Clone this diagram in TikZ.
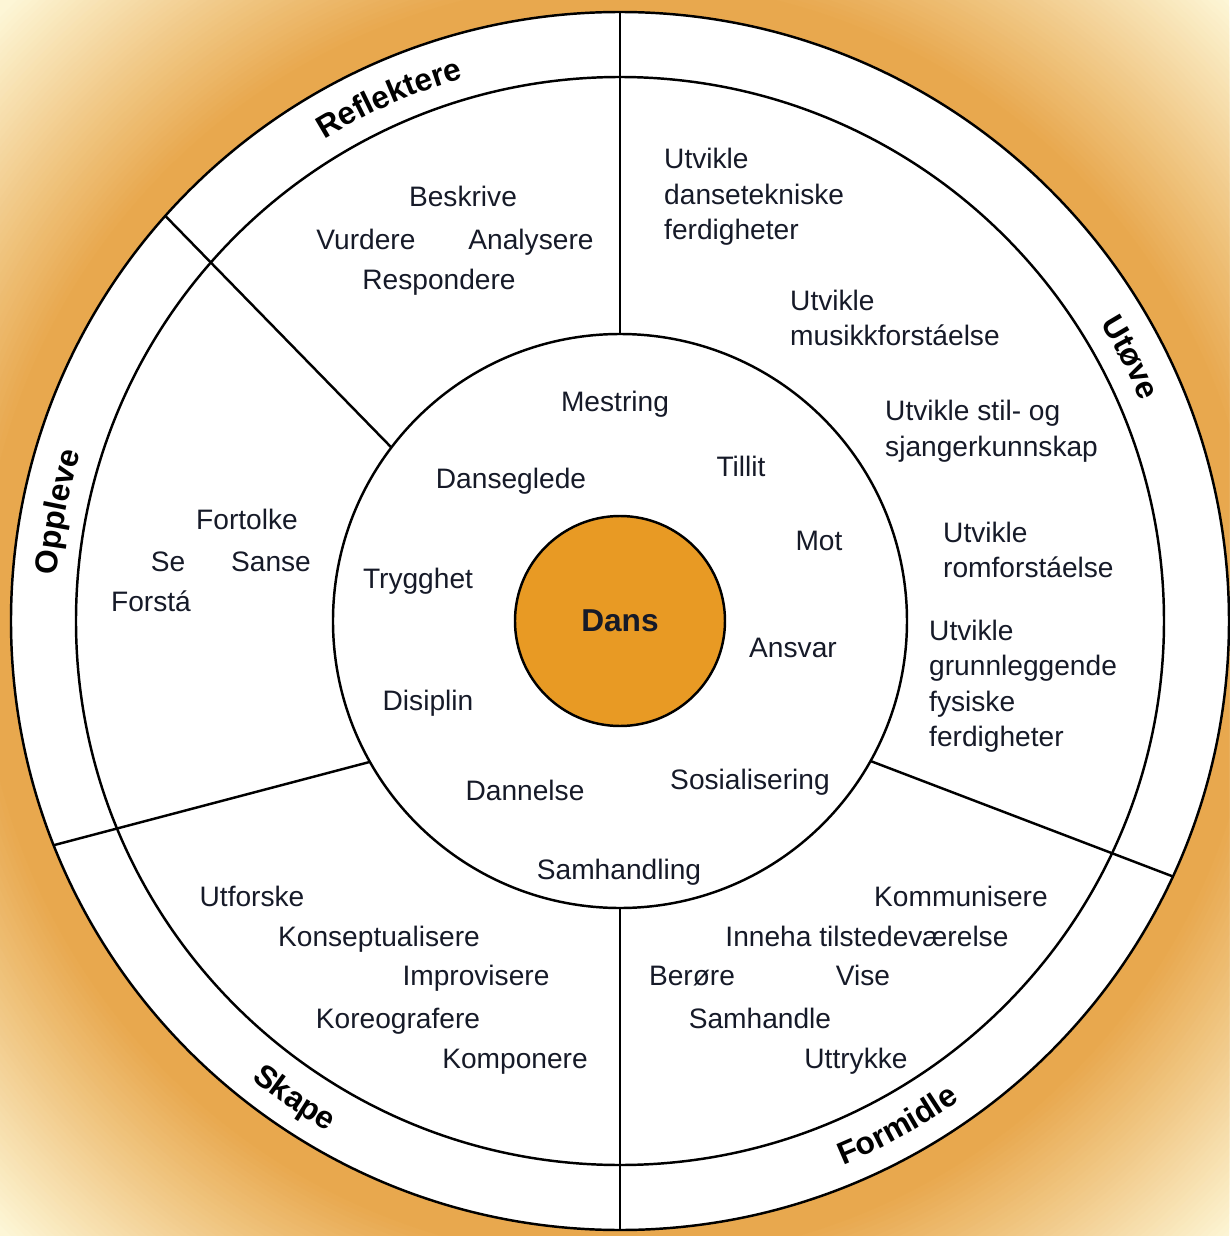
\documentclass[tikz,border=0pt]{standalone}
\usepackage{fontspec}
\setmainfont{Liberation Sans}
\usepackage{tikz}
\usetikzlibrary{decorations.text}
\definecolor{bgorange}{RGB}{232,168,78}
\definecolor{bgpale}{RGB}{253,246,214}
\definecolor{dansorange}{RGB}{232,154,36}
\definecolor{inkblue}{RGB}{22,26,40}
\newcommand\ringfont{\bfseries\fontsize{9}{11}\selectfont}

\begin{document}
\begin{tikzpicture}[x=0.01cm,y=0.01cm,line width=0.7pt,
    word/.style={font=\fontsize{8}{10}\selectfont,text=inkblue,inner sep=0pt,text height=1.4ex,text depth=0pt},
    goal/.style={font=\fontsize{8}{10.1}\selectfont,text=inkblue,inner sep=0pt,align=left,anchor=west},
    cwband/.style={decorate,decoration={text along path,text align=center,text={|\ringfont|#1}}},
    ccwband/.style={decorate,decoration={text along path,text align=center,text={|\ringfont|#1}}}]
    \useasboundingbox (-620,621) rectangle (609,-615);
    \begin{scope} %背景渐变
        \clip (-620,621) rectangle (609,-615);
        \fill[bgpale] (-620,621) rectangle (609,-615);
        \foreach \k in {0,...,46} {
            \pgfmathsetmacro\p{100*\k/46}
            \pgfmathsetmacro\r{870-5*\k}
            \fill[bgorange!\p!bgpale] (0,0) circle[radius=\r];
        }
    \end{scope}
    \fill[white] (0,0) circle[radius=609];
    \draw (0,0) circle[radius=609];
    \draw (0,0) circle[radius=544];
    \draw (0,0) circle[radius=287];
    \coordinate (TopOut) at (90:609); %分隔线的端点
    \coordinate (TopIn) at (90:287);
    \coordinate (BotIn) at (270:287);
    \coordinate (BotOut) at (270:609);
    \coordinate (RefOut) at (138.3:609);
    \coordinate (RefIn) at (142.8:287);
    \coordinate (OppOut) at (201.6:609);
    \coordinate (OppIn) at (209.4:287);
    \coordinate (FormOut) at (-24.8:609);
    \coordinate (FormIn) at (-29.2:287);
    \draw (TopOut) -- (TopIn);
    \draw (BotIn) -- (BotOut);
    \draw (RefOut) -- (RefIn);
    \draw (OppOut) -- (OppIn);
    \draw (FormOut) -- (FormIn);
    \draw[fill=dansorange] (0,0) circle[radius=105];
    \node[word,font=\bfseries\fontsize{9}{11}\selectfont] (dans) at (0,3) {Dans};
    % 外圈标签
    \path[cwband={Reflektere}] (133.8:565) arc[start angle=133.8,end angle=93.8,radius=565];
    \path[cwband={Ut{ø}ve}] (47.3:565) arc[start angle=47.3,end angle=7.3,radius=565];
    \path[cwband={Oppleve}] (189:565) arc[start angle=189,end angle=149,radius=565];
    \path[ccwband={Skape}] (215.7:588) arc[start angle=215.7,end angle=255.7,radius=588];
    \path[ccwband={Formidle}] (278.8:588) arc[start angle=278.8,end angle=318.8,radius=588];
    % 内圈
    \node[word] (mestring) at (-5,223) {Mestring};
    \node[word] (danseglede) at (-109,146) {Danseglede};
    \node[word] (tillit) at (121,158) {Tillit};
    \node[word] (mot) at (199,84) {Mot};
    \node[word] (trygghet) at (-202,46) {Trygghet};
    \node[word] (ansvar) at (173,-23) {Ansvar};
    \node[word] (disiplin) at (-192,-76) {Disiplin};
    \node[word] (dannelse) at (-95,-166) {Dannelse};
    \node[word] (sosial) at (130,-155) {Sosialisering};
    \node[word] (samhandling) at (-1,-245) {Samhandling};
    % Reflektere
    \node[word] (beskrive) at (-157,428) {Beskrive};
    \node[word] (vurdere) at (-254,385) {Vurdere};
    \node[word] (analysere) at (-89,385) {Analysere};
    \node[word] (respondere) at (-181,345) {Respondere};
    % Utøve
    \node[goal] (teknikk) at (43,424) {Utvikle\\dansetekniske\\ferdigheter};
    \node[goal] (musikk) at (169,303) {Utvikle\\musikkforstáelse};
    \node[goal] (stil) at (264,190) {Utvikle stil- og\\sjangerkunnskap};
    \node[goal] (rom) at (322,71) {Utvikle\\romforstáelse};
    \node[goal] (fysisk) at (308,-65) {Utvikle\\grunnleggende\\fysiske\\ferdigheter};
    % Oppleve
    \node[word] (fortolke) at (-373,105) {Fortolke};
    \node[word] (se) at (-452,63) {Se};
    \node[word] (sanse) at (-349,63) {Sanse};
    \node[word] (forsta) at (-469,23) {Forstá};
    % Skape
    \node[word] (utforske) at (-368,-272) {Utforske};
    \node[word] (konsept) at (-241,-312) {Konseptualisere};
    \node[word] (improv) at (-144,-351) {Improvisere};
    \node[word] (koreo) at (-222,-394) {Koreografere};
    \node[word] (komponere) at (-105,-434) {Komponere};
    % Formidle
    \node[word] (kommuniser) at (341,-272) {Kommunisere};
    \node[word] (inneha) at (247,-312) {Inneha tilstedeværelse};
    \node[word] (berore) at (72,-351) {Berøre};
    \node[word] (vise) at (243,-351) {Vise};
    \node[word] (samhandle) at (140,-394) {Samhandle};
    \node[word] (uttrykke) at (236,-434) {Uttrykke};
\end{tikzpicture}
\end{document}
